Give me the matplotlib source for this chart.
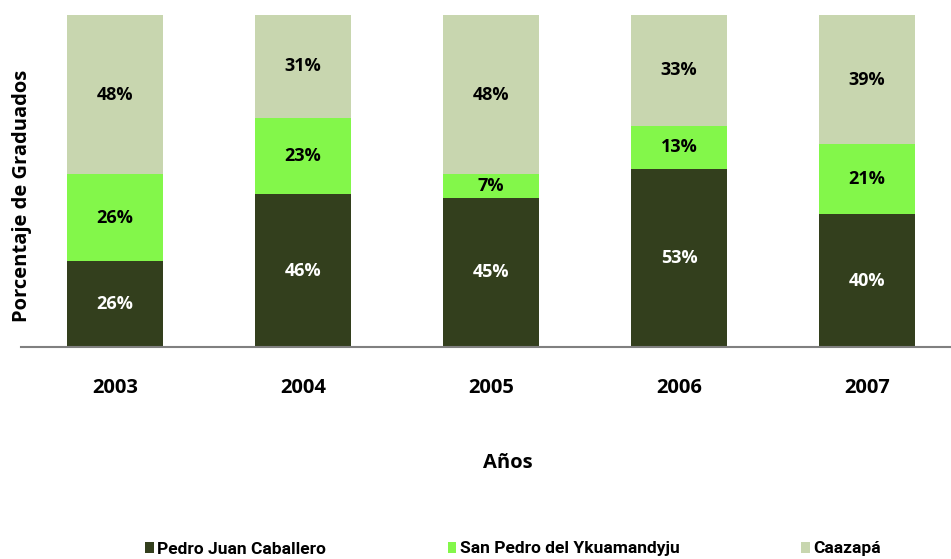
import numpy as np
import matplotlib.pyplot as plt

# datos
years = ['2003', '2004', '2005', '2006', '2007']
series = ['Pedro Juan Caballero', 'San Pedro del Ykuamandyju', 'Caazapá']
pjc = [26, 46, 45, 53, 40]
spy = [26, 23, 7, 13, 21]
caa = [48, 31, 48, 33, 39]
colors = ['#333F1D', '#83F74A', '#C8D6AF']
label_colors = ['white', 'black', 'black']

plt.rcParams['font.family'] = ['Open Sans', 'DejaVu Sans']

fig = plt.figure(figsize=(9.51, 5.59), dpi=100)
ax = fig.add_axes([21 / 951, 212 / 559, 940 / 951, 332 / 559])

values = np.array([pjc, spy, caa], dtype=float)
shares = values / values.sum(axis=0)  # 100% apilado
x = np.arange(len(years))
bottom = np.zeros(len(years))
for i, name in enumerate(series):
    ax.bar(x, shares[i], 0.51, bottom=bottom, color=colors[i], label=name)
    for j in range(len(years)):
        ax.text(x[j], bottom[j] + shares[i][j] / 2, f'{values[i][j]:.0f}%',
                ha='center', va='center', fontsize=13, fontweight='bold',
                color=label_colors[i])
    bottom += shares[i]

ax.set_xlim(-0.5, 4.5)
ax.set_ylim(0, 1)
ax.set_yticks([])
ax.set_xticks(x)
ax.set_xticklabels(years, fontsize=14.5, fontweight='bold')
ax.tick_params(axis='x', length=0, pad=22)
for s in ['top', 'right', 'left']:
    ax.spines[s].set_visible(False)
ax.spines['bottom'].set_color('#808080')
ax.spines['bottom'].set_linewidth(1.5)

fig.text(22 / 951, 1 - 196 / 559, 'Porcentaje de Graduados', rotation=90,
         ha='center', va='center', fontsize=14.5, fontweight='bold')
fig.text(508 / 951, 1 - 463 / 559, 'Años', ha='center', va='center',
         fontsize=14.5, fontweight='bold')

fig.legend(loc='center', bbox_to_anchor=(513 / 951, 1 - 549 / 559), ncol=3,
           frameon=False, handlelength=0.5, handleheight=0.6, handletextpad=0.2,
           columnspacing=7.0,
           prop={'family': ['Roboto', 'DejaVu Sans'],
                 'weight': 'bold', 'size': 12.5})

fig.savefig('out.png', dpi=100)
